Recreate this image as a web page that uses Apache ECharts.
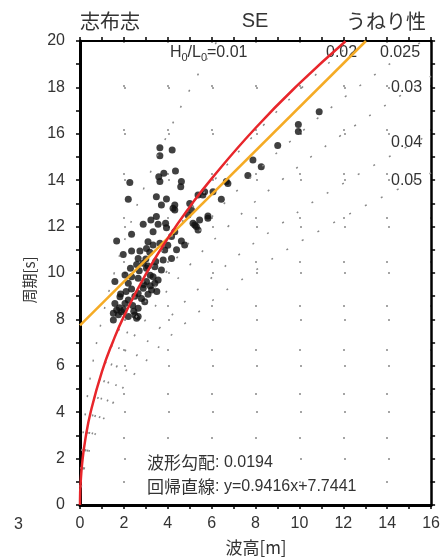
<!DOCTYPE html>
<html lang="ja">
<head>
    <meta http-equiv="Content-Type" content="text/html; charset=utf-8"/>
    <script src="https://cdn.jsdelivr.net/npm/echarts@6/dist/echarts.min.js"></script>
    <style type="text/css">
        html, body { margin:0; background:#fff; }
        #main_1 { width:443px; height:560px; }
    </style>
</head>
<body>
<div id="main_1"></div>
<script>
    // 観測値 [波高 m, 周期 s]
    var obsPoints = [
        [3.64,15.4],[3.64,15.05],[4.2,15.3],[4.35,14.4],[3.82,14.3],[3.59,14.15],[2.27,13.9],[3.64,13.94],
        [4.62,13.94],[4.59,13.72],[2.2,13.18],[3.48,13.29],[3.94,13.19],[4.32,12.93],[3.71,12.93],[5.0,13.0],
        [5.38,13.36],[5.68,13.5],[6.44,13.18],[6.74,13.86],[7.65,14.2],[7.88,14.87],[8.26,14.58],[9.01,15.5],
        [9.95,16.1],[9.95,16.4],[10.9,16.95],[4.32,12.72],[5.08,12.72],[4.92,12.5],[3.48,12.43],[3.23,12.28],
        [2.88,12.1],[3.56,12.1],[3.9,12.14],[3.94,11.95],[3.33,11.78],[5.15,12.14],[5.45,12.28],[5.83,12.46],
        [5.23,12.07],[5.38,11.85],[2.35,11.67],[4.32,11.78],[4.17,11.57],[1.67,11.38],[3.1,11.35],[3.33,11.21],
        [3.64,11.28],[4.62,11.38],[4.77,11.21],[3.03,11.06],[2.35,10.95],[2.73,10.95],[1.97,10.8],[3.18,10.89],
        [3.86,10.99],[4.17,10.63],[3.79,10.56],[2.65,10.63],[2.58,10.37],[2.88,10.42],[3.41,10.27],[3.03,10.2],
        [3.71,10.13],[2.05,9.91],[2.35,9.84],[2.65,9.77],[3.33,9.84],[3.56,9.7],[1.59,9.63],[2.2,9.56],
        [3.03,9.63],[3.41,9.56],[2.35,9.31],[2.88,9.34],[3.26,9.27],[2.65,9.12],[3.1,9.08],[1.82,8.98],
        [2.2,8.84],[1.59,8.69],[2.05,8.69],[2.95,8.76],[1.67,8.41],[1.89,8.33],[2.65,8.48],[2.5,8.19],
        [2.58,8.05],[1.52,8.26],[2.2,8.12],[1.52,7.97],[2.65,8.12],[4.24,12.79],[6.67,13.94],[6.06,13.5],
        [5.6,13.36],[5.3,12.0],[5.83,12.36],[2.9,9.5],[3.2,9.9],[2.4,8.6],[1.8,8.5],[2.8,8.9],
        [3.5,9.2],[2.1,9.2],[3.0,10.6],[4.0,11.2],[4.4,11.0],[1.75,8.2],[2.0,8.4],[2.45,8.35],[3.2,9.45],
        [2.5,9.0],[3.45,10.5],[2.7,10.1],[3.1,10.3],[1.85,9.1],[2.3,10.2]
    ];

    // 回帰直線 y=0.9416x+7.7441 の両端
    var regLine = [[0, 7.74], [13.03, 20]];

    // 波形勾配 0.0194 の曲線
    var steepLine = [[0,0],[0.005,0.41],[0.02,0.81],[0.1,1.82],[0.25,2.87],[0.5,4.06],[1,5.75],[1.5,7.04],
        [2,8.13],[3,9.95],[4,11.49],[5,12.85],[6,14.07],[8,16.25],[10,18.17],[12.1,19.99]];

    // H0/L0 の参考曲線
    var refCurves = {
        '0.01':  [[0,0],[0.0625,2],[0.25,4],[0.56,6],[1.0,8],[1.56,10],[2.25,12],[3.06,14],[4.0,16],[5.06,18],[6.25,20]],
        '0.02':  [[0,0],[0.125,2],[0.5,4],[1.12,6],[2.0,8],[3.12,10],[4.5,12],[6.12,14],[7.99,16],[10.12,18],[12.49,20]],
        '0.025': [[0,0],[0.156,2],[0.62,4],[1.41,6],[2.5,8],[3.9,10],[5.62,12],[7.65,14],[9.99,16],[12.65,18],[15.61,20]],
        '0.03':  [[0,0],[0.187,2],[0.75,4],[1.69,6],[3.0,8],[4.68,10],[6.74,12],[9.18,14],[11.99,16],[15.18,18],[16,18.48]],
        '0.04':  [[0,0],[0.25,2],[1.0,4],[2.25,6],[4.0,8],[6.25,10],[8.99,12],[12.24,14],[16,16]],
        '0.05':  [[0,0],[0.31,2],[1.25,4],[2.81,6],[5.0,8],[7.81,10],[11.24,12],[15.3,14],[16,14.31]]
    };

    var fontLatin = '"Liberation Sans", Arial, sans-serif';
    var fontJa = '"Noto Sans CJK JP", "Liberation Sans", sans-serif';

    function ax(pos, max, w, dash) {
        var main = pos === 'bottom' || pos === 'left';
        return {
            type: 'value', position: pos, min: 0, max: max, interval: 2,
            axisLine: {show: true, onZero: false, lineStyle: {color: '#000', width: w}},
            axisTick: {show: true, length: 4, lineStyle: {color: '#000', width: 1.5}},
            minorTick: {show: true, splitNumber: 2, length: 4, lineStyle: {color: '#000', width: 1.5}},
            axisLabel: {show: main, fontFamily: fontLatin, fontSize: 16, color: '#333'},
            splitLine: {show: main, lineStyle: {color: '#888', width: 1.5, type: dash}}
        };
    }

    var xBottom = ax('bottom', 16, 3, [2, 42]);
    xBottom.axisLabel.margin = 11;
    var yLeft = ax('left', 20, 3, [2, 42]);
    yLeft.axisLabel.margin = 15;

    var series = [];
    for (var k in refCurves) {
        series.push({
            type: 'line', data: refCurves[k], smooth: true, symbol: 'none',
            lineStyle: {color: '#888', width: 1.5, type: [2, 16]}
        });
    }
    series.push({type: 'scatter', data: obsPoints, symbolSize: 7, itemStyle: {color: '#111'}});
    series.push({type: 'line', data: regLine, symbol: 'none', lineStyle: {color: '#f5ab25', width: 2.5}});
    series.push({type: 'line', data: steepLine, smooth: true, symbol: 'none', lineStyle: {color: '#e8262b', width: 2.5}});

    // 文字 (すべて普通のテキスト)
    function txt(s, x, y, font, align) {
        return {type: 'text', x: x, y: y, style: {text: s, font: font, fill: '#333', align: align || 'left', verticalAlign: 'middle'}};
    }
    var f16 = '16px ' + fontLatin;
    var f11 = '11px ' + fontLatin;
    var labels = [
        txt('志布志', 80, 21, '20px ' + fontJa),
        txt('SE', 255, 21, '20px ' + fontLatin, 'center'),
        txt('うねり性', 346, 21, '20px ' + fontJa),
        txt('H', 170, 53, f16),
        txt('0', 181.5, 58, f11),
        txt('/L', 187.5, 53, f16),
        txt('0', 201, 58, f11),
        txt('=0.01', 207, 53, f16),
        txt('0.02', 326, 53, f16),
        txt('0.025', 380, 53, f16),
        txt('0.03', 391, 88, f16),
        txt('0.04', 391, 143, f16),
        txt('0.05', 391, 181, f16),
        txt('波形勾配', 147, 463, '17px ' + fontJa),
        txt(': 0.0194', 215, 463, f16),
        txt('回帰直線', 147, 487, '17px ' + fontJa),
        txt(': y=0.9416x+7.7441', 215, 487, f16),
        txt('波高[m]', 256, 548, '17px ' + fontJa, 'center'),
        txt('3', 14, 525, f16)
    ];
    var yName = txt('周期[s]', 29, 280, '15px ' + fontJa, 'center');
    yName.rotation = Math.PI / 2;
    labels.push(yName);

    var myChart = echarts.init(document.getElementById('main_1'));
    myChart.setOption({
        animation: false,
        grid: {left: 80, right: 11, top: 41, bottom: 55},
        xAxis: [xBottom, ax('top', 16, 2, 'solid')],
        yAxis: [yLeft, ax('right', 20, 2.5, 'solid')],
        series: series,
        graphic: labels
    });
</script>
</body>
</html>
